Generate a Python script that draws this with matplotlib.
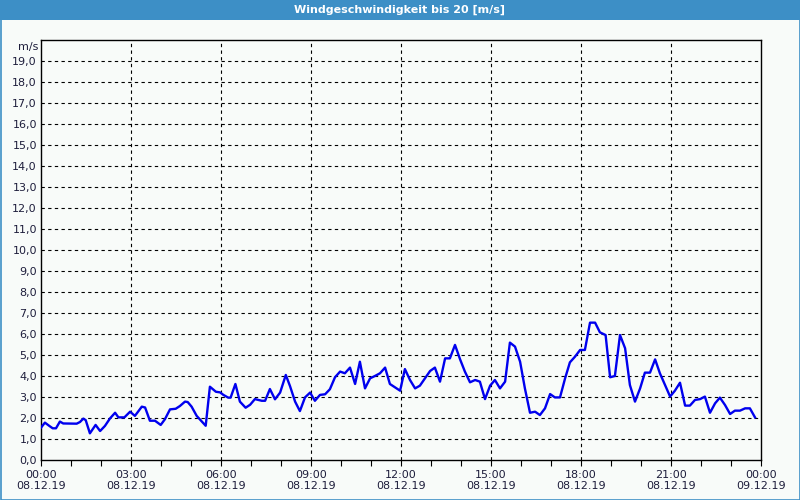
import matplotlib
matplotlib.use("Agg")
import matplotlib.pyplot as plt
from matplotlib.patches import Rectangle

# time in hours after 08.12.19 00:00, wind speed in m/s
hours = [0.00, 0.13, 0.28, 0.39, 0.50, 0.63, 0.74, 1.19, 1.30, 1.41, 1.49, 1.63, 1.82, 1.97,
         2.13, 2.30, 2.47, 2.58, 2.78, 2.97, 3.13, 3.36, 3.47, 3.63, 3.80, 3.99, 4.13, 4.30,
         4.49, 4.63, 4.80, 4.89, 5.02, 5.19, 5.49, 5.63, 5.83, 5.97, 6.08, 6.24, 6.32, 6.48,
         6.63, 6.82, 6.97, 7.13, 7.36, 7.47, 7.63, 7.80, 7.97, 8.16, 8.30, 8.47, 8.63, 8.80,
         8.97, 9.13, 9.30, 9.47, 9.63, 9.80, 9.97, 10.13, 10.30, 10.47, 10.63, 10.80, 10.97,
         11.13, 11.30, 11.47, 11.63, 11.80, 11.97, 12.13, 12.30, 12.47, 12.63, 12.80, 12.97,
         13.13, 13.30, 13.47, 13.63, 13.80, 13.97, 14.13, 14.30, 14.47, 14.63, 14.80, 14.97,
         15.13, 15.30, 15.47, 15.63, 15.80, 15.97, 16.13, 16.30, 16.47, 16.63, 16.80, 16.97,
         17.13, 17.30, 17.47, 17.63, 17.80, 17.97, 18.13, 18.30, 18.47, 18.63, 18.82, 18.97,
         19.13, 19.30, 19.47, 19.63, 19.80, 19.97, 20.13, 20.30, 20.47, 20.63, 20.80, 20.97,
         21.13, 21.30, 21.47, 21.63, 21.80, 21.97, 22.13, 22.30, 22.47, 22.63, 22.80, 22.97,
         23.13, 23.30, 23.47, 23.63, 23.80]
speed = [1.54, 1.78, 1.62, 1.51, 1.51, 1.83, 1.74, 1.73, 1.81, 1.97, 1.90, 1.27, 1.67, 1.38,
         1.62, 1.98, 2.25, 2.03, 2.03, 2.30, 2.10, 2.54, 2.50, 1.87, 1.87, 1.67, 1.94, 2.41,
         2.44, 2.57, 2.78, 2.76, 2.54, 2.10, 1.63, 3.49, 3.25, 3.22, 3.10, 2.97, 2.97, 3.62,
         2.78, 2.49, 2.63, 2.90, 2.82, 2.82, 3.38, 2.89, 3.21, 4.05, 3.52, 2.78, 2.33, 2.98,
         3.21, 2.82, 3.10, 3.13, 3.37, 3.94, 4.21, 4.13, 4.40, 3.62, 4.68, 3.41, 3.89,
         4.00, 4.13, 4.40, 3.62, 3.46, 3.30, 4.33, 3.81, 3.41, 3.54, 3.89, 4.24,
         4.40, 3.73, 4.84, 4.84, 5.48, 4.79, 4.21, 3.70, 3.81, 3.73, 2.90, 3.54,
         3.81, 3.41, 3.73, 5.59, 5.40, 4.68, 3.41, 2.25, 2.30, 2.14, 2.46, 3.14,
         2.98, 2.98, 3.89, 4.65, 4.92, 5.24, 5.24, 6.54, 6.54, 6.08, 5.95, 3.94,
         4.00, 5.95, 5.32, 3.57, 2.78, 3.41, 4.16, 4.16, 4.79, 4.13, 3.57, 3.02,
         3.30, 3.68, 2.59, 2.59, 2.86, 2.90, 3.02, 2.25, 2.70, 2.97, 2.62, 2.19,
         2.35, 2.35, 2.46, 2.46, 2.03]

title = "Windgeschwindigkeit bis 20 [m/s]"
unit = "m/s"
x_ticks = [0, 3, 6, 9, 12, 15, 18, 21, 24]
x_labels = ["00:00\n08.12.19", "03:00\n08.12.19", "06:00\n08.12.19", "09:00\n08.12.19",
            "12:00\n08.12.19", "15:00\n08.12.19", "18:00\n08.12.19", "21:00\n08.12.19",
            "00:00\n09.12.19"]
y_ticks = list(range(0, 20))
y_labels = [f"{v},0" for v in y_ticks]

bg = "#F8FBF9"
blue_bar = "#3D8FC6"
text_col = "#1E1E3C"

fig = plt.figure(figsize=(8, 5), dpi=100, facecolor=bg)
# title bar and outer border
fig.patches.append(Rectangle((0, 480 / 500), 1, 20 / 500, transform=fig.transFigure,
                             facecolor=blue_bar, edgecolor="none", zorder=0))
fig.patches.append(Rectangle((0.5 / 800, 0.5 / 500), 799 / 800, 499 / 500, transform=fig.transFigure,
                             facecolor="none", edgecolor=blue_bar, lw=1.2, zorder=5))
fig.text(0.5, 1 - 10 / 500, title, color="white", fontsize=8, fontweight="bold",
         ha="center", va="center", family="DejaVu Sans")

ax = fig.add_axes([41 / 800, 40 / 500, 720 / 800, 420 / 500])
ax.set_facecolor(bg)
ax.plot(hours, speed, color="#0000EE", lw=1.7, zorder=3, solid_joinstyle="round")
ax.set_xlim(0, 24)
ax.set_ylim(0, 20)

ax.set_xticks(x_ticks)
ax.set_xticklabels(x_labels)
ax.set_xticks(list(range(0, 25)), minor=True)
ax.set_yticks(y_ticks)
ax.set_yticklabels(y_labels)

ax.tick_params(axis="x", which="both", direction="out", length=4, width=0.8, colors="black",
               labelcolor=text_col, labelsize=8, pad=3)
ax.tick_params(axis="y", which="both", length=0, labelcolor=text_col, labelsize=8, pad=3)
for s in ax.spines.values():
    s.set_color("black")
    s.set_linewidth(1.0)

for v in range(1, 20):
    ax.axhline(v, color="black", lw=0.8, ls=(0, (3, 3)), zorder=1)
for h in x_ticks[1:-1]:
    ax.axvline(h, color="black", lw=0.8, ls=(0, (3, 3)), zorder=1)

ax.text(-0.004, 19.66, unit, transform=ax.get_yaxis_transform(), ha="right", va="center",
        fontsize=8, color=text_col)

fig.savefig("out.png", dpi=100, facecolor=bg)
